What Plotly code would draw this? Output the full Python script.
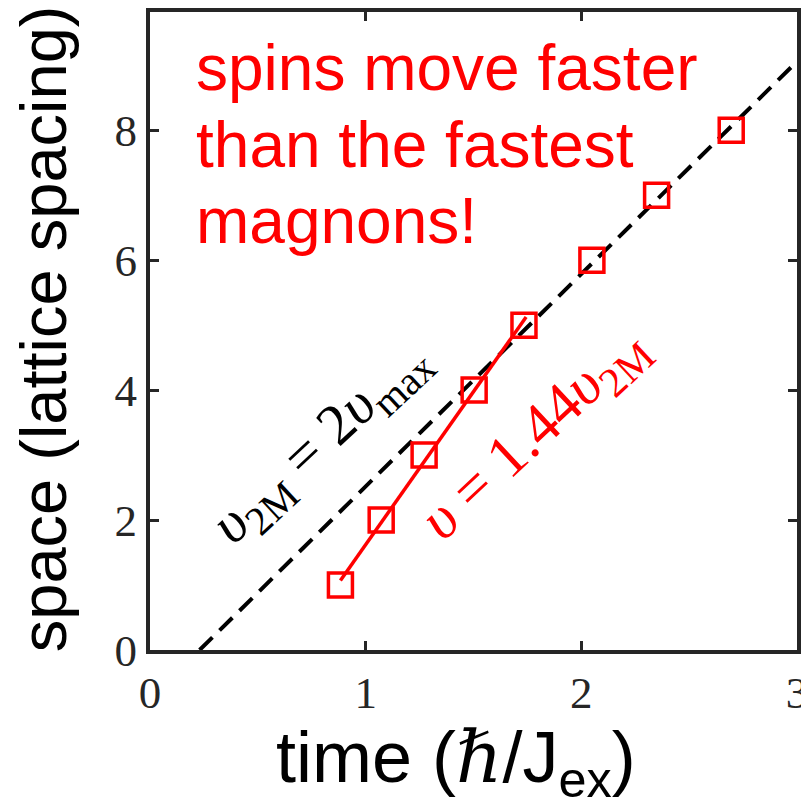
import numpy as np
import plotly.graph_objects as go

# Arrival times of the spin front at each lattice site
t_front = [0.883, 1.072, 1.271, 1.503, 1.734, 2.049, 2.349, 2.695]
site = [1, 2, 3, 4, 5, 6, 7, 8]

# Two-magnon light-cone: x = v2M * (t - t0)
v2M = 3.27
t0 = 0.23
ratio = 1.44          # fitted front speed in units of v2M
n_fit = 5             # early points used for the fit

x_ticks = [0, 1, 2, 3]
y_ticks = [0, 2, 4, 6, 8]

RED = "#FF0000"
AX = "#262626"

fig = go.Figure()

# dashed light-cone line
t_cone = np.array([t0, 3.0])
fig.add_trace(go.Scatter(
    x=t_cone, y=v2M * (t_cone - t0), mode="lines",
    line=dict(color="black", width=4, dash="18px,10px"),
    showlegend=False, hoverinfo="skip"))

# red fit line with slope 1.44 v2M through the first points
v_fit = ratio * v2M
tf = np.array(t_front[:n_fit])
xf = np.array(site[:n_fit], dtype=float)
b = xf.mean() - v_fit * tf.mean()
t_line = np.array([tf[0], tf[-1] + 0.01])
fig.add_trace(go.Scatter(
    x=t_line, y=v_fit * t_line + b, mode="lines",
    line=dict(color=RED, width=3.5),
    showlegend=False, hoverinfo="skip"))

# data markers
fig.add_trace(go.Scatter(
    x=t_front, y=site, mode="markers",
    marker=dict(symbol="square-open", size=24, color=RED,
                line=dict(color=RED, width=3.5)),
    showlegend=False))

serif = "Liberation Serif, DejaVu Serif, serif"
sans = "Liberation Sans, Arial, sans-serif"

annotations = [
    dict(text="spins move faster", x=0.205, y=(650 - 68) / 65),
    dict(text="than the fastest", x=0.205, y=(650 - 145) / 65),
    dict(text="magnons!", x=0.205, y=(650 - 221) / 65),
]
for a in annotations:
    fig.add_annotation(text=a["text"], x=a["x"], y=a["y"], xref="x", yref="y",
                       xanchor="left", yanchor="middle", showarrow=False,
                       font=dict(family=sans, size=64, color=RED))

fig.add_annotation(
    text="<i>υ</i><sub>2M</sub> = 2<i>υ</i><sub>max</sub>",
    x=(321 - 150) / 216.3, y=(650 - 443) / 65, xref="x", yref="y",
    textangle=-43, showarrow=False,
    font=dict(family=serif, size=58, color="black"))

fig.add_annotation(
    text="<i>υ</i> = 1.44<i>υ</i><sub>2M</sub>",
    x=(536 - 150) / 216.3, y=(650 - 435) / 65, xref="x", yref="y",
    textangle=-43, showarrow=False,
    font=dict(family=serif, size=60, color=RED))

# axis titles
fig.add_annotation(
    text="time (<span style='font-family:DejaVu Serif'><i>ℏ</i></span>/J<sub>ex</sub>)",
    x=(456 - 150) / 647, y=-0.174, xref="paper", yref="paper",
    xanchor="center", yanchor="middle", showarrow=False,
    font=dict(family=sans, size=72, color="black"))

fig.add_annotation(
    text="space (lattice spacing)",
    x=-0.165, y=(650 - 329) / 638, xref="paper", yref="paper",
    xanchor="center", yanchor="middle", textangle=-90, showarrow=False,
    font=dict(family=sans, size=65, color="black"))

axis_common = dict(
    showline=True, linecolor=AX, linewidth=4, mirror="ticks",
    ticks="inside", ticklen=9, tickwidth=3, tickcolor=AX,
    showgrid=False, zeroline=False, ticklabeloverflow="allow",
    automargin=False,
    tickfont=dict(family=serif, size=45, color=AX),
)

fig.update_xaxes(range=[0, 3], tickvals=x_ticks, ticktext=[str(v) for v in x_ticks],
                 **axis_common)
fig.update_yaxes(range=[0, 9.82], tickvals=y_ticks, ticktext=[str(v) for v in y_ticks],
                 **axis_common)

fig.update_layout(
    width=801, height=807,
    margin=dict(l=150, r=4, t=12, b=157),
    paper_bgcolor="white", plot_bgcolor="white",
)

fig.write_html("out.html")
